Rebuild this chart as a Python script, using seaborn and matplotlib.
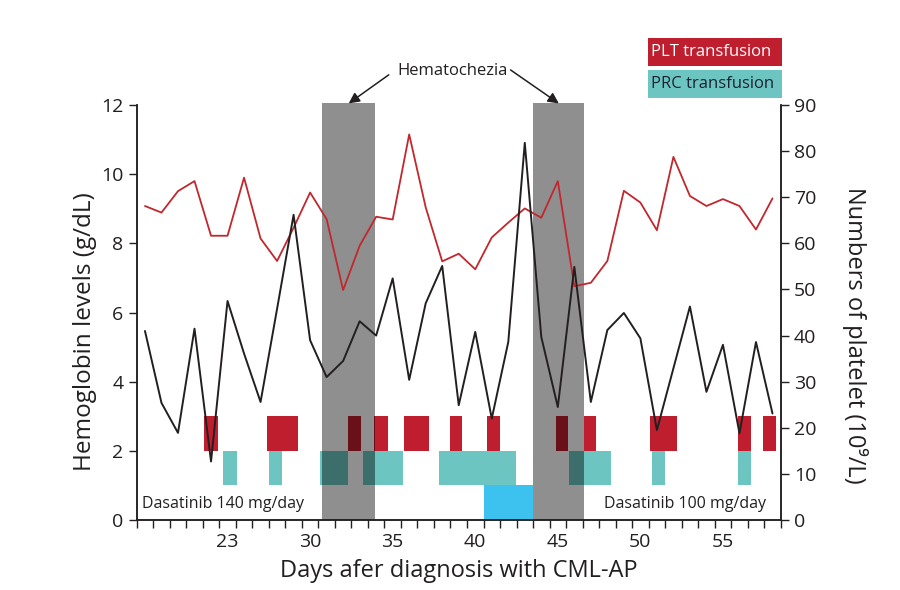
import numpy as np
import pandas as pd
import matplotlib
matplotlib.use('Agg')
import matplotlib.pyplot as plt
from matplotlib.patches import Rectangle
import seaborn as sns

sns.set_style('ticks')
plt.rcParams['font.family'] = ['Open Sans', 'DejaVu Sans']

RED = '#be1e2d'
TEAL = '#6cc5c1'
BLUE = '#3dc1ee'
INK = '#231f20'

# daily values
days = list(range(20, 59))
hemoglobin = [9.08, 8.89, 9.51, 9.80, 8.22, 8.22, 9.90, 8.14, 7.49, 8.45,
              9.47, 8.70, 6.65, 7.93, 8.77, 8.69, 11.15, 9.04, 7.48, 7.70,
              7.25, 8.17, 8.60, 9.01, 8.74, 9.80, 6.76, 6.86, 7.49, 9.52,
              9.18, 8.38, 10.50, 9.37, 9.08, 9.28, 9.08, 8.40, 9.30]
platelet = [41.0, 25.4, 18.9, 41.5, 12.7, 47.5, 36.1, 25.6, 45.8, 66.2,
            39.0, 31.0, 34.5, 43.1, 40.0, 52.4, 30.4, 47.0, 55.1, 24.9,
            40.8, 22.0, 38.6, 81.8, 39.7, 24.5, 54.9, 25.6, 41.2, 44.9,
            39.4, 19.5, 32.9, 46.3, 27.8, 38.0, 18.8, 38.6, 23.1]

# transfusion periods (day start, day end)
plt_start = [23.6, 27.4, 32.3, 33.85, 35.7, 38.5, 40.7, 44.9, 46.6, 50.6, 55.9, 57.4]
plt_end = [24.4, 29.25, 33.1, 34.7, 37.2, 39.2, 41.5, 45.6, 47.3, 52.2, 56.7, 58.2]
prc_start = [24.7, 27.5, 30.6, 33.2, 37.8, 45.7, 50.7, 55.9]
prc_end = [25.6, 28.3, 32.3, 35.6, 42.45, 48.2, 51.5, 56.7]
blue_start = [40.5]
blue_end = [43.5]

# hematochezia periods
bleed_start = [30.7, 43.5]
bleed_end = [33.9, 46.6]

x_ticks = [25, 30, 35, 40, 45, 50, 55]
x_labels = ['23', '30', '35', '40', '45', '50', '55']

df = pd.DataFrame({'day': days, 'hb': hemoglobin, 'plt': platelet})

fig = plt.figure(figsize=(9, 5.9), dpi=100)
ax = fig.add_axes([0.1519, 0.1186, 0.7156, 0.7034])
ax2 = ax.twinx()

ax.bar(plt_start, 1, width=np.subtract(plt_end, plt_start), bottom=2,
       align='edge', color=RED, lw=0, zorder=1)
ax.bar(prc_start, 1, width=np.subtract(prc_end, prc_start), bottom=1,
       align='edge', color=TEAL, lw=0, zorder=1)
ax.bar(blue_start, 1, width=np.subtract(blue_end, blue_start), bottom=0,
       align='edge', color=BLUE, lw=0, zorder=1)
ax.bar(bleed_start, 12.05, width=np.subtract(bleed_end, bleed_start), bottom=0,
       align='edge', color='black', alpha=0.44, lw=0, zorder=2, clip_on=False)

sns.lineplot(data=df, x='day', y='hb', ax=ax, color='#c1272d', lw=1.3, zorder=3)
sns.lineplot(data=df, x='day', y='plt', ax=ax2, color=INK, lw=1.4)

ax.set_xlim(19.5, 58.5)
ax.set_ylim(0, 12)
ax2.set_ylim(0, 90)
ax.set_yticks(range(0, 13, 2))
ax2.set_yticks(range(0, 91, 10))
ax.set_xticks(x_ticks, labels=x_labels)
ax.set_xticks(np.arange(19.5, 58.6, 1), minor=True)
ax.tick_params(axis='x', which='major', length=0, pad=9, labelsize=14, colors=INK)
ax.tick_params(axis='x', which='minor', length=6, width=1, color=INK)
ax.tick_params(axis='y', length=6, width=1, labelsize=14, colors=INK)
ax2.tick_params(axis='y', length=6, width=1, labelsize=14, colors=INK)

for a in (ax, ax2):
    a.spines['top'].set_visible(False)
    for s in ('left', 'right', 'bottom'):
        a.spines[s].set_color(INK)
        a.spines[s].set_linewidth(1.1)

ax.set_xlabel('Days afer diagnosis with CML-AP', fontsize=17, color=INK, labelpad=6)
ax.set_ylabel('Hemoglobin levels (g/dL)', fontsize=17.5, color=INK, va='center')
ax.yaxis.set_label_coords(-0.080, 0.453)
ax2.set_ylabel('Numbers of platelet (10⁹/L)', fontsize=17, color=INK,
               rotation=270, va='center')
ax2.yaxis.set_label_coords(1.115, 0.446)

ax.text(19.8, 0.45, 'Dasatinib 140 mg/day', fontsize=11.5, color=INK, va='center', zorder=5)
ax.text(57.6, 0.45, 'Dasatinib 100 mg/day', fontsize=11.5, color=INK, va='center',
        ha='right', zorder=5)

# hematochezia label with two arrows
ax.text(38.6, 12.98, 'Hematochezia', fontsize=12, color=INK, ha='center', va='center')
arrow = dict(arrowstyle='-|>', color=INK, lw=1.1, mutation_scale=16)
ax.annotate('', xy=(32.2, 12.0), xytext=(34.9, 12.92), arrowprops=arrow,
            annotation_clip=False)
ax.annotate('', xy=(45.2, 12.0), xytext=(42.0, 13.06), arrowprops=arrow,
            annotation_clip=False)

# legend boxes
fig.patches.append(Rectangle((648 / 900, 1 - 66 / 590), 134 / 900, 28 / 590,
                             transform=fig.transFigure, color=RED, lw=0))
fig.patches.append(Rectangle((648 / 900, 1 - 98 / 590), 134 / 900, 28 / 590,
                             transform=fig.transFigure, color=TEAL, lw=0))
fig.text(651 / 900, 1 - 52 / 590, 'PLT transfusion', fontsize=12, color='white',
         ha='left', va='center')
fig.text(651 / 900, 1 - 84 / 590, 'PRC transfusion', fontsize=12, color='#1c2233',
         ha='left', va='center')

fig.savefig('out.png', dpi=100)
